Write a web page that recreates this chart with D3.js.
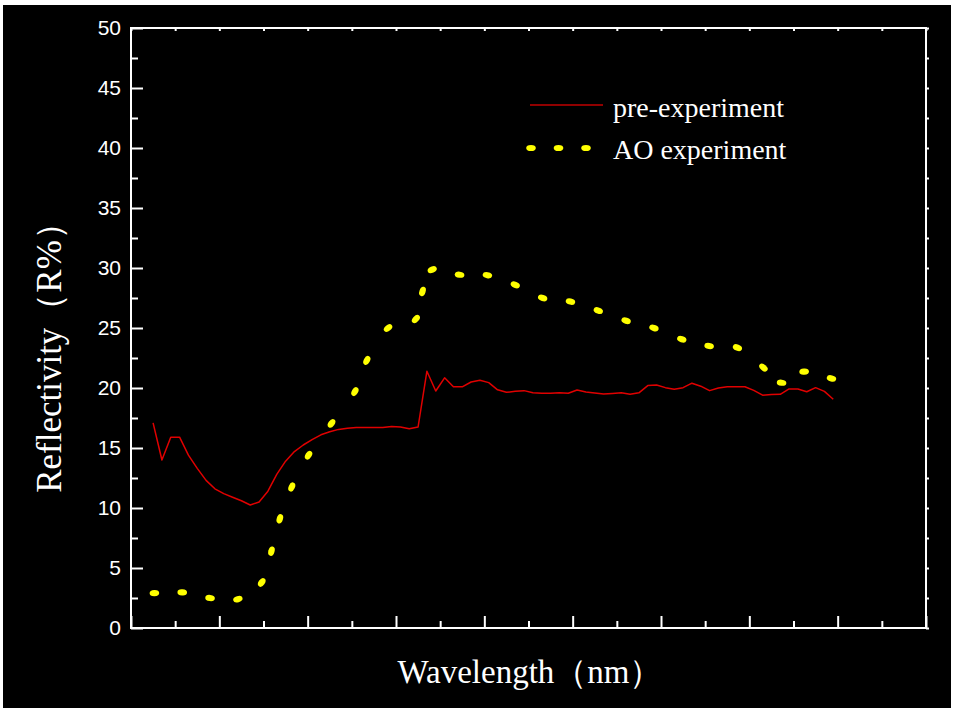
<!DOCTYPE html>
<html>
<head>
<meta charset="utf-8">
<script src="https://cdn.jsdelivr.net/npm/d3@7"></script>
<style>
html,body{margin:0;padding:0;background:#fff;}
svg{display:block;}
</style>
</head>
<body>
<svg id="chart" width="955" height="712"></svg>
<script>
// ---- data ----
const preX = [250,270,290,310,330,350,370,390,410,430,450,470,490,510,530,550,570,590,610,630,
  650,670,690,710,730,750,770,790,810,830,850,870,890,910,930,950,970,990,1010,1030,
  1050,1070,1090,1110,1130,1150,1170,1190,1210,1230,1250,1270,1290,1310,1330,1350,1370,1390,1410,1430,
  1450,1470,1490,1510,1530,1550,1570,1590,1610,1630,1650,1670,1690,1710,1730,1750,1770,1790];
const preY = [17.1,14.0,15.9,15.9,14.4,13.3,12.3,11.6,11.2,10.9,10.6,10.25,10.5,11.4,12.8,13.9,14.7,15.25,15.7,16.1,
  16.35,16.55,16.65,16.7,16.7,16.7,16.7,16.8,16.75,16.6,16.75,21.4,19.75,20.85,20.1,20.1,20.5,20.65,20.45,19.85,
  19.64,19.72,19.78,19.6,19.56,19.56,19.6,19.56,19.83,19.67,19.58,19.5,19.55,19.6,19.47,19.6,20.2,20.25,20.03,19.9,
  20.03,20.4,20.15,19.78,20.0,20.1,20.1,20.1,19.8,19.4,19.45,19.47,19.92,19.92,19.69,20.03,19.72,19.06];
const aoX = [253,316,379,442,496,518,537,564,602,654,707,734,782,845,860,882,944,1007,1070,1132,
  1195,1258,1321,1384,1447,1509,1573,1632,1673,1724,1786];
const aoY = [2.9,2.97,2.5,2.4,3.8,6.4,9.1,11.75,14.4,17.05,19.7,22.3,25.0,25.75,28.05,29.86,29.44,29.4,28.6,27.5,
  27.2,26.45,25.6,25.0,24.06,23.5,23.36,21.7,20.44,21.36,20.8];
const yTicks = [0,5,10,15,20,25,30,35,40,45,50];
const yMinor = [2.5,7.5,12.5,17.5,22.5,27.5,32.5,37.5,42.5,47.5];
const xMajor = [200,400,600,800,1000,1200,1400,1600,1800,2000];
const xMinor = [300,500,700,900,1100,1300,1500,1700,1900];
const seriesNames = ["pre-experiment","AO experiment"];
const xTitle = "Wavelength（nm）";
const yTitle = "Reflectivity（R%）";

// ---- drawing ----
const svg = d3.select("#chart");
svg.append("rect").attr("x",3).attr("y",5).attr("width",948).attr("height",703).attr("fill","#000");

const x = d3.scaleLinear().domain([200,2000]).range([131,926]);
const y = d3.scaleLinear().domain([0,50]).range([628,28]);

const axisColor = "#fff";
function styleAxis(g){
  g.select(".domain").remove();
  g.selectAll("line").attr("stroke",axisColor).attr("stroke-width",2);
  g.selectAll("text").attr("fill",axisColor);
}

// bottom
svg.append("g").attr("transform","translate(0,628)")
  .call(d3.axisBottom(x).tickValues(xMajor).tickSizeInner(-12).tickSizeOuter(0).tickFormat(""))
  .call(styleAxis);
svg.append("g").attr("transform","translate(0,628)")
  .call(d3.axisBottom(x).tickValues(xMinor).tickSizeInner(-7).tickSizeOuter(0).tickFormat(""))
  .call(styleAxis);
// top
svg.append("g").attr("transform","translate(0,28)")
  .call(d3.axisTop(x).tickValues(xMajor.concat(xMinor)).tickSizeInner(-3).tickSizeOuter(0).tickFormat(""))
  .call(styleAxis);
// left
svg.append("g").attr("transform","translate(131,0)")
  .call(d3.axisLeft(y).tickValues(yTicks).tickSizeInner(-12).tickSizeOuter(0).tickPadding(10))
  .call(styleAxis)
  .call(g=>g.selectAll("text").attr("font-family","Liberation Sans, Arial, sans-serif").attr("font-size",21));
svg.append("g").attr("transform","translate(131,0)")
  .call(d3.axisLeft(y).tickValues(yMinor).tickSizeInner(-7).tickSizeOuter(0).tickFormat(""))
  .call(styleAxis);
// right
svg.append("g").attr("transform","translate(926,0)")
  .call(d3.axisRight(y).tickValues(yTicks.concat(yMinor)).tickSizeInner(3).tickSizeOuter(0).tickFormat(""))
  .call(styleAxis);

// frame
svg.append("rect").attr("x",x(200)).attr("y",y(50)).attr("width",x(2000)-x(200)).attr("height",y(0)-y(50))
  .attr("fill","none").attr("stroke","#fff").attr("stroke-width",2);

// red series
const pre = preX.map((v,i)=>[v,preY[i]]);
svg.append("path").datum(pre)
  .attr("d",d3.line().x(d=>x(d[0])).y(d=>y(d[1])))
  .attr("fill","none").attr("stroke","#e00000").attr("stroke-width",1.5).attr("stroke-linejoin","round");

// yellow dotted series (dots oriented along the line)
const ao = aoX.map((v,i)=>[v,aoY[i]]);
const pts = ao.map(d=>[x(d[0]),y(d[1])]);
svg.append("g").selectAll("ellipse").data(pts).join("ellipse")
  .attr("rx",4.8).attr("ry",3.1)
  .attr("fill","#ffff00")
  .attr("transform",(p,i)=>{
    const a = pts[Math.max(0,i-1)], b = pts[Math.min(pts.length-1,i+1)];
    const ang = Math.atan2(b[1]-a[1], b[0]-a[0])*180/Math.PI;
    return `translate(${p[0]},${p[1]}) rotate(${ang})`;
  });

// legend
const lg = svg.append("g");
lg.append("line").attr("x1",530).attr("x2",603).attr("y1",105).attr("y2",105)
  .attr("stroke","#c00000").attr("stroke-width",1.6);
lg.selectAll("ellipse").data([531,558.5,586]).join("ellipse")
  .attr("cx",d=>d).attr("cy",148).attr("rx",4.8).attr("ry",3.1).attr("fill","#ffff00");
lg.selectAll("text").data(seriesNames).join("text")
  .attr("x",613).attr("y",(d,i)=>i===0?117:159)
  .attr("fill","#fff").attr("font-family","Liberation Serif, Times New Roman, serif").attr("font-size",28)
  .text(d=>d);

// titles
svg.append("text").attr("x",530).attr("y",683).attr("text-anchor","middle")
  .attr("fill","#fff").attr("font-family","Liberation Serif, Times New Roman, serif").attr("font-size",33)
  .text(xTitle);
svg.append("text").attr("transform","translate(61,349) rotate(-90)").attr("text-anchor","middle")
  .attr("fill","#fff").attr("font-family","Liberation Serif, Times New Roman, serif").attr("font-size",35)
  .text(yTitle);
</script>
</body>
</html>
